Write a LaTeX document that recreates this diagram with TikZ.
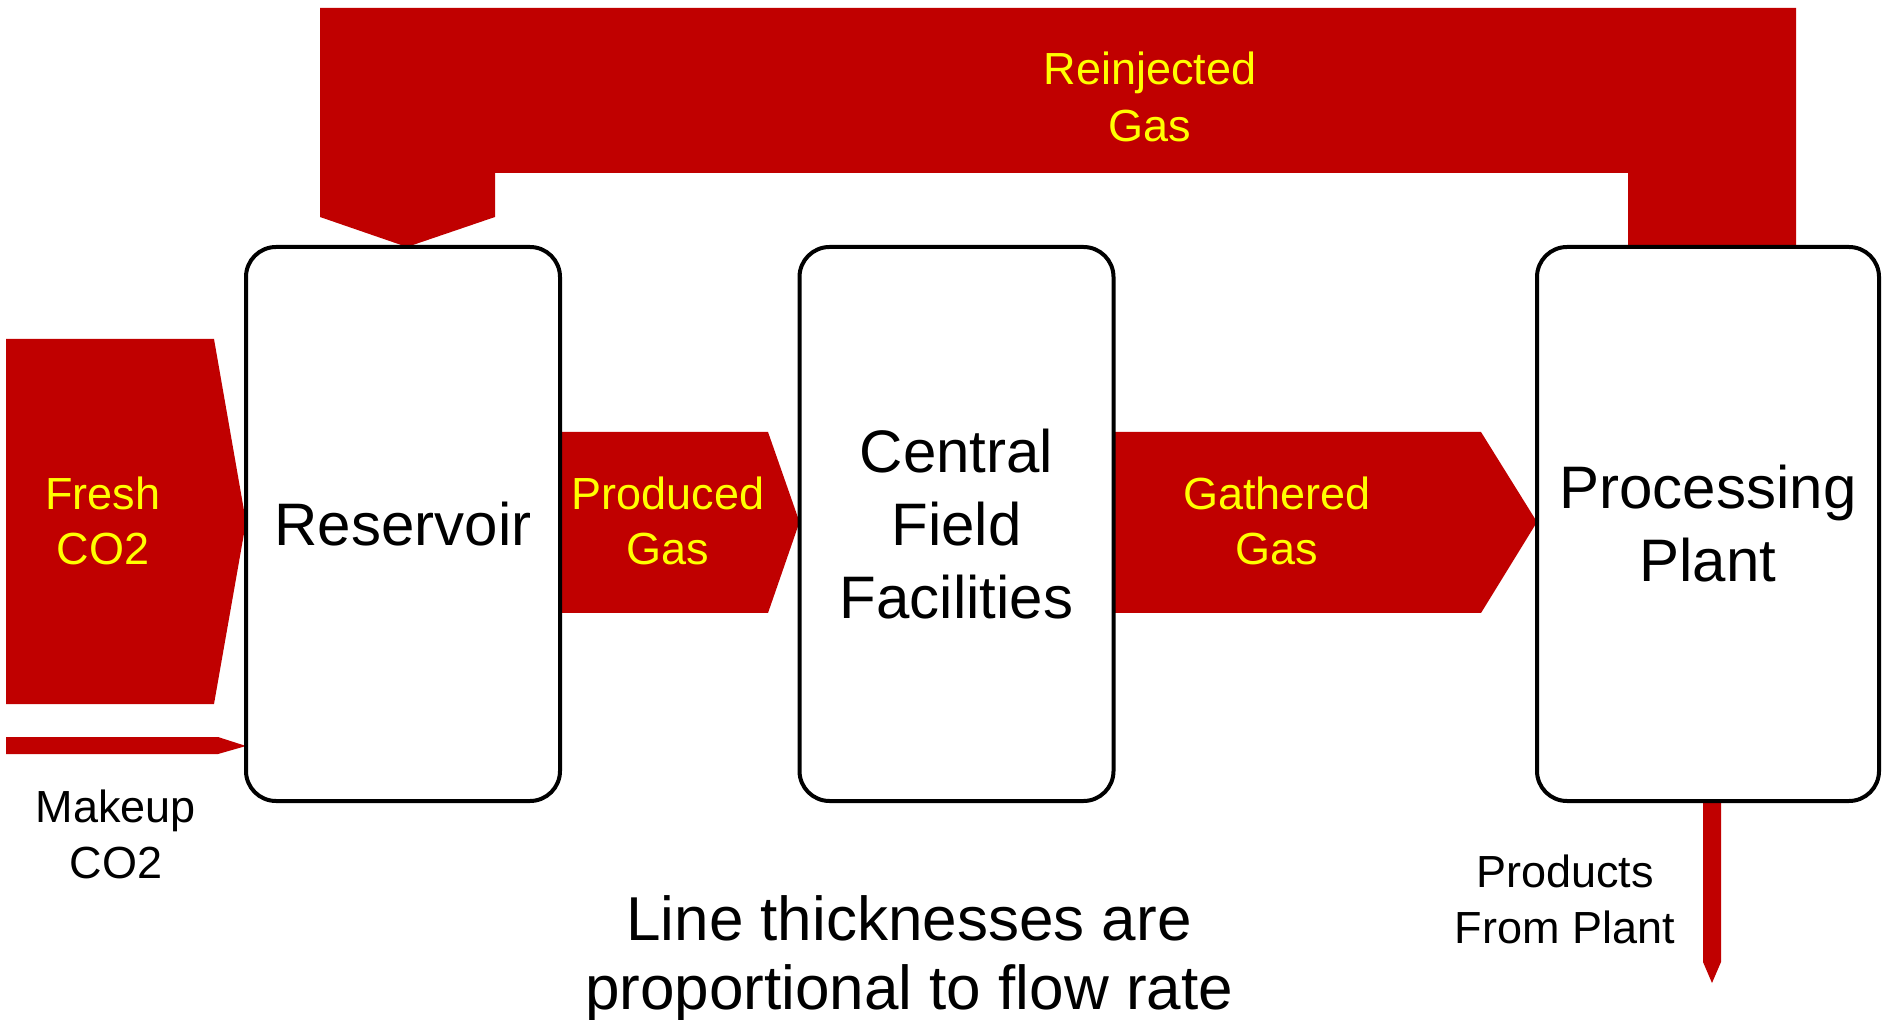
\documentclass[tikz,border=0pt]{standalone}
\usepackage{fontspec}
\setmainfont{Liberation Sans}
\usetikzlibrary{backgrounds}
\definecolor{flowred}{RGB}{192,0,0}
\definecolor{flowtext}{RGB}{255,255,0}
\begin{document}
\begin{tikzpicture}[x=0.5pt,y=-0.5pt,
  unitbox/.style={draw=black, line width=2pt, fill=white, rounded corners=15pt,
    minimum width=157pt, minimum height=277pt, inner sep=0pt, outer sep=0pt,
    align=center, font=\fontsize{30}{36.5}\selectfont},
  flow/.style={fill=flowred, draw=none},
  flowlabel/.style={text=flowtext, align=center, anchor=base,
    font=\fontsize{22.5}{27.75}\selectfont},
  note/.style={text=black, align=center, anchor=base,
    font=\fontsize{22.5}{27.75}\selectfont},
  bignote/.style={text=black, align=center, anchor=base,
    font=\fontsize{31}{34.5}\selectfont}]
  \useasboundingbox (0,0) rectangle (1883,1020);

  % process units
  \node[unitbox] (res) at (403,524) {Reservoir};
  \node[unitbox] (cff) at (956.5,524) {Central\\Field\\Facilities};
  \node[unitbox, minimum width=171pt] (pp) at (1708,524) {Processing\\Plant};

  \begin{scope}[on background layer]
    % canvas
    \fill[white] (0,0) rectangle (1883,1020);
    % flow streams, widths proportional to rate
    % fresh CO2 into the reservoir
    \fill[flow] (6,339) -- (214,339) -- (res.west |- 0,522) -- (214,704) -- (6,704) -- cycle;
    % makeup CO2
    \fill[flow] (6,737) -- (218,737) -- (res.west |- 0,746) -- (218,754) -- (6,754) -- cycle;
    % produced gas
    \fill[flow] (res.east |- 0,432) -- (768,432) -- (cff.west |- 0,522)
      -- (768,613) -- (res.east |- 0,613) -- cycle;
    % gathered gas
    \fill[flow] (cff.east |- 0,432) -- (1481,432) -- (pp.west |- 0,522)
      -- (1481,613) -- (cff.east |- 0,613) -- cycle;
    % reinjected gas loop from the plant back to the reservoir
    \fill[flow] (320,8) -- (1796,8) -- (1796,0 |- pp.north) -- (1628,0 |- pp.north)
      -- (1628,173) -- (495,173) -- (495,217) -- (407,0 |- res.north)
      -- (320,217) -- cycle;
    % products leaving the plant
    \fill[flow] (1703,0 |- pp.south) -- (1721,0 |- pp.south) -- (1721,962)
      -- (1712,983) -- (1703,962) -- cycle;
  \end{scope}

  % stream labels (placed by the baseline of their last line)
  \node[flowlabel] (freshlbl) at (103,565) {Fresh\\CO2};
  \node[flowlabel] (prodlbl) at (668,565) {Produced\\Gas};
  \node[flowlabel] (gathlbl) at (1277,565) {Gathered\\Gas};
  \node[flowlabel, font=\fontsize{22.5}{28.5}\selectfont] (reinjlbl) at (1150,142) {Reinjected\\Gas};
  \node[note] (makeuplbl) at (116,878) {Makeup\\CO2};
  \node[note] (productslbl) at (1565,943) {Products\\From Plant};
  \node[bignote] (legend) at (909,1009) {Line thicknesses are\\proportional to flow rate};
\end{tikzpicture}
\end{document}
